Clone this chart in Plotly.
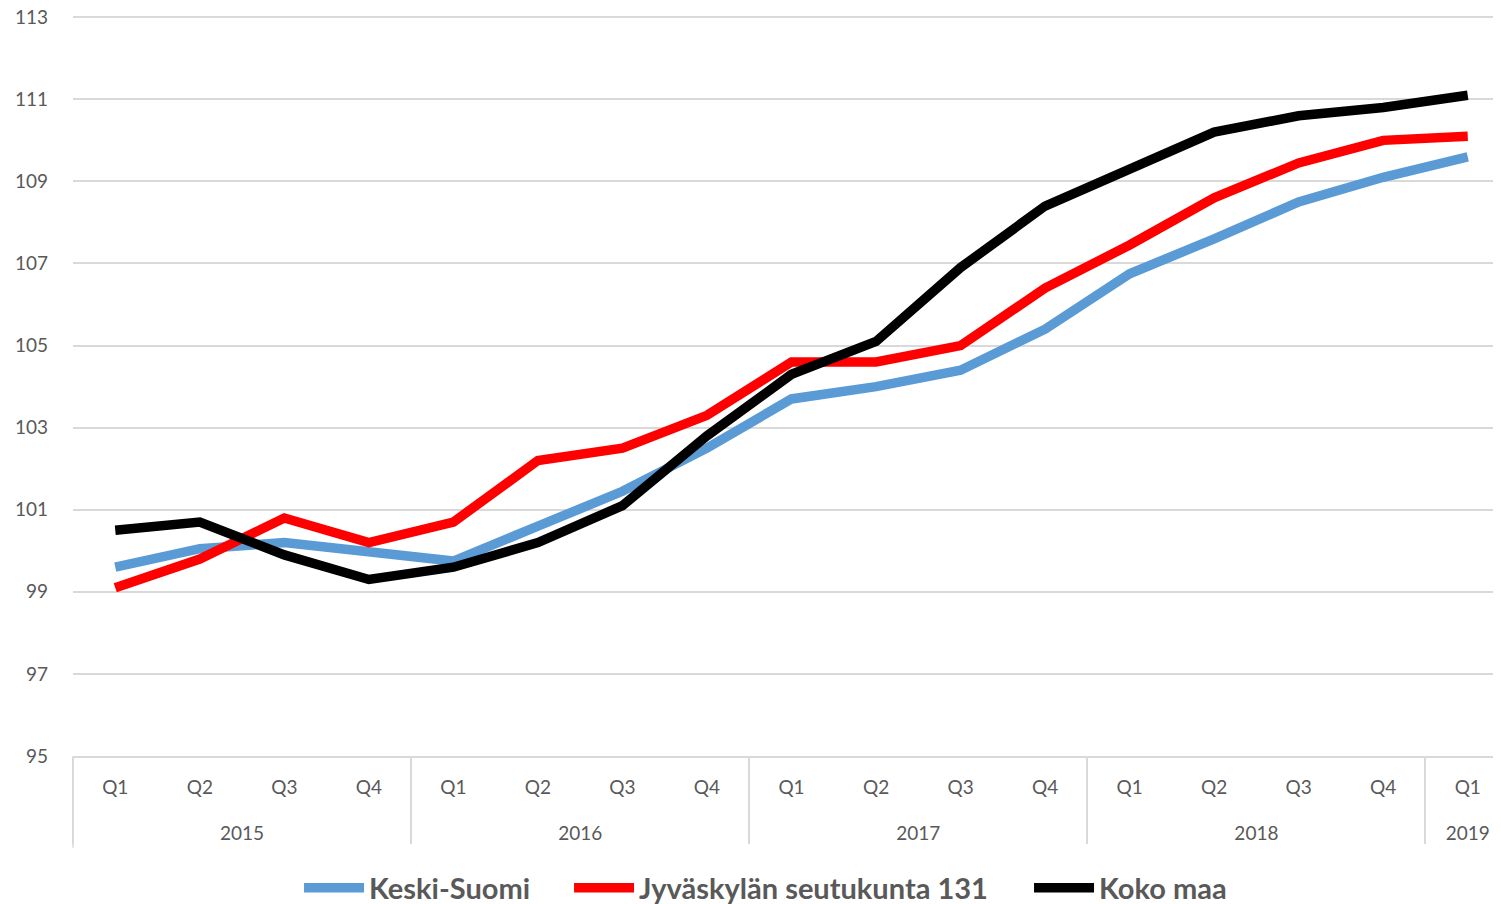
import plotly.graph_objects as go

years = ['2015', '2015', '2015', '2015',
         '2016', '2016', '2016', '2016',
         '2017', '2017', '2017', '2017',
         '2018', '2018', '2018', '2018',
         '2019']
quarters = ['Q1', 'Q2', 'Q3', 'Q4',
            'Q1', 'Q2', 'Q3', 'Q4',
            'Q1', 'Q2', 'Q3', 'Q4',
            'Q1', 'Q2', 'Q3', 'Q4',
            'Q1']

keski_suomi = [99.6, 100.05, 100.2, 100.0, 99.75, 100.6, 101.45, 102.5,
               103.7, 104.0, 104.4, 105.4, 106.75, 107.6, 108.5, 109.1, 109.6]
jyvaskyla = [99.1, 99.8, 100.8, 100.2, 100.7, 102.2, 102.5, 103.3,
             104.6, 104.6, 105.0, 106.4, 107.45, 108.6, 109.45, 110.0, 110.1]
koko_maa = [100.5, 100.7, 99.9, 99.3, 99.6, 100.2, 101.1, 102.8,
            104.3, 105.1, 106.9, 108.4, 109.3, 110.2, 110.6, 110.8, 111.1]

series = [('Keski-Suomi', keski_suomi, '#5B9BD5', 'legend', 0.1573),
          ('Jyväskylän seutukunta 131', jyvaskyla, '#FF0000', 'legend2', 0.3452),
          ('Koko maa', koko_maa, '#000000', 'legend3', 0.6653)]

# quarter labels get a tall empty second line so the year row sits lower
x_cats = [years, [q + '<br><span style="font-size:48px"> </span>' for q in quarters]]

fig = go.Figure()
for name, vals, col, leg, _ in series:
    fig.add_trace(go.Scatter(x=x_cats, y=vals, mode='lines', name=name, legend=leg,
                             line=dict(color=col, width=9.5)))

# one legend per series so the entries can sit where the original has them
leg_style = dict(orientation='h', xanchor='left', yref='container', y=0.018, yanchor='middle',
                 font=dict(size=29, color='#595959', weight='bold'), itemwidth=60,
                 bgcolor='rgba(0,0,0,0)')
layout_legends = {}
for name, vals, col, leg, lx in series:
    layout_legends[leg] = dict(leg_style, x=lx)

# the original plot area runs a little past the right edge of the window
fig.update_layout(
    width=1502, height=896,
    margin=dict(l=65, r=0, t=8, b=148),
    plot_bgcolor='white', paper_bgcolor='white',
    font=dict(family='Lato, Open Sans, sans-serif', size=19, color='#595959'),
    showlegend=True,
    **layout_legends,
)
fig.update_yaxes(range=[95, 113.03], dtick=2, tick0=95, showgrid=True, gridcolor='#D9D9D9',
                 gridwidth=1.5, zeroline=False, ticks='', ticklabelstandoff=24,
                 ticklabeloverflow='allow', showline=False, automargin=False)
fig.update_xaxes(type='multicategory', range=[-0.5, 16.5], showline=True,
                 linecolor='#D9D9D9', linewidth=1.5,
                 showdividers=True, dividercolor='#D9D9D9', dividerwidth=1.5,
                 ticks='', ticklabelstandoff=13, showgrid=False, automargin=False)

# left edge divider of the category axis
fig.add_shape(type='line', xref='paper', yref='paper', x0=0, x1=0, y0=0, y1=-0.124,
              line=dict(color='#D9D9D9', width=1.5))

fig.write_html('out.html', config={'responsive': False})
